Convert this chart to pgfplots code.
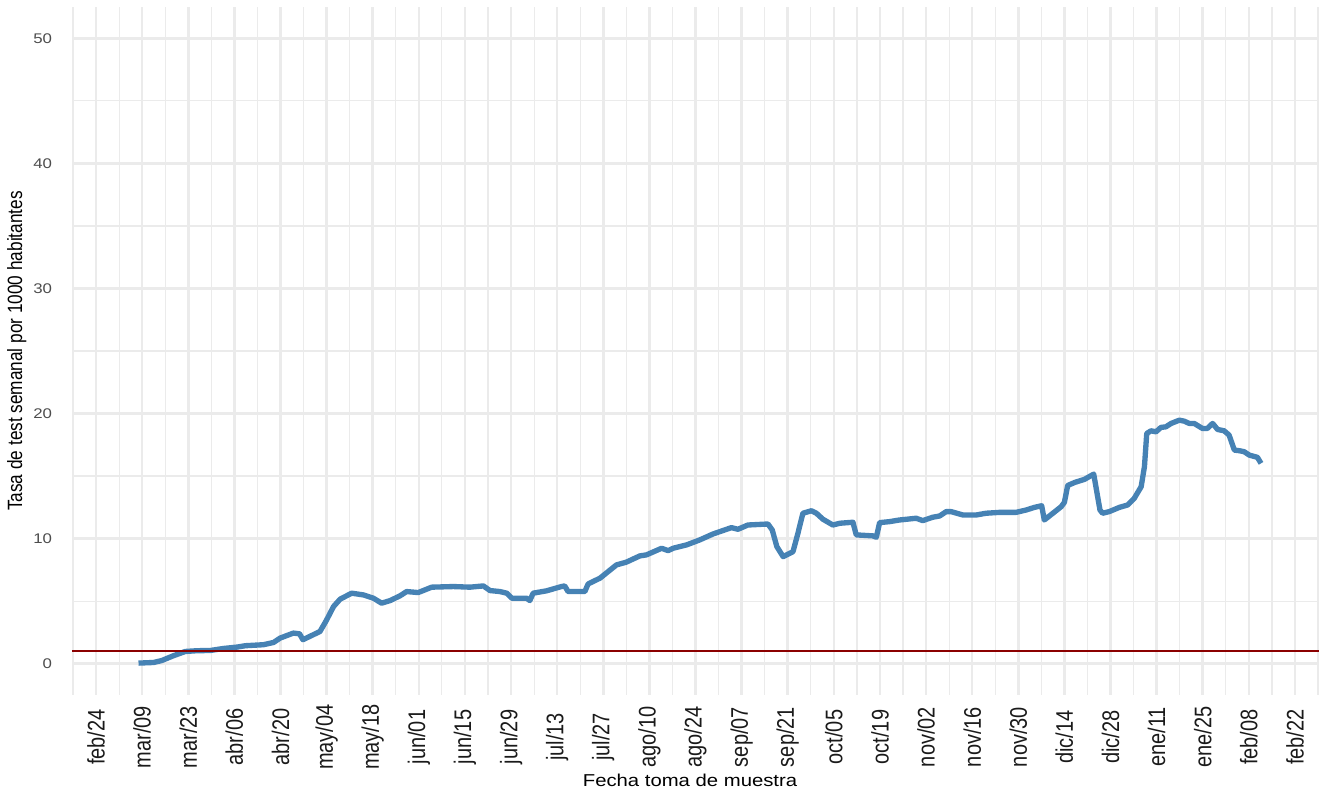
\documentclass[border=0pt]{standalone}
\usepackage{fontspec}
\setmainfont{Liberation Sans}
\newfontfamily\fYT[FakeStretch=1.2]{Liberation Sans}
\newfontfamily\fXT[FakeStretch=0.833]{Liberation Sans}
\newfontfamily\fXL[FakeStretch=1.18]{Liberation Sans}
\usepackage{pgfplots}
\pgfplotsset{compat=1.18}
\definecolor{gridc}{HTML}{EBEBEB}
\definecolor{lineblue}{HTML}{4682B4}
\definecolor{refred}{HTML}{8B0000}
\definecolor{ytc}{HTML}{4D4D4D}
\definecolor{xtc}{HTML}{1A1A1A}
\pgfplotstableread{
d v
12.9 0.05
17.5 0.10
20.0 0.26
23.5 0.64
27.1 0.98
30.6 1.04
34.7 1.06
38.7 1.22
42.8 1.33
45.3 1.44
50.8 1.52
53.9 1.70
55.9 2.05
59.9 2.45
61.8 2.39
62.8 1.92
65.5 2.26
68.0 2.58
70.0 3.50
72.1 4.57
74.1 5.16
77.6 5.64
81.2 5.50
84.2 5.24
86.7 4.84
89.3 5.05
92.3 5.43
94.3 5.77
97.8 5.69
101.9 6.12
108.5 6.17
113.5 6.12
117.6 6.22
119.6 5.85
122.6 5.77
124.7 5.64
126.2 5.24
130.7 5.24
131.7 5.05
132.7 5.64
136.8 5.83
141.3 6.17
142.3 6.22
143.3 5.77
148.4 5.77
149.4 6.38
153.0 6.84
158.0 7.90
161.0 8.12
165.1 8.62
167.1 8.70
171.7 9.23
173.7 9.04
175.2 9.23
179.3 9.50
183.3 9.90
187.3 10.37
192.9 10.88
194.9 10.75
197.9 11.09
204.0 11.17
205.3 10.69
206.7 9.36
208.6 8.56
211.6 8.96
213.1 10.43
214.6 12.03
217.2 12.23
218.7 12.03
220.7 11.55
223.7 11.09
225.8 11.23
229.8 11.31
230.8 10.30
235.9 10.22
236.9 10.11
237.9 11.28
240.9 11.36
243.9 11.49
249.0 11.63
251.0 11.44
254.0 11.71
256.1 11.81
258.1 12.16
259.6 12.16
263.2 11.89
267.2 11.89
270.2 12.03
274.3 12.10
279.3 12.10
282.4 12.29
284.9 12.50
287.1 12.63
287.9 11.49
290.5 12.03
293.0 12.55
294.0 12.90
295.0 14.25
297.2 14.50
300.1 14.74
302.9 15.16
304.8 12.29
305.6 12.03
307.6 12.16
310.7 12.50
313.2 12.69
315.2 13.22
317.3 14.15
318.3 15.75
319.0 18.41
320.3 18.62
321.8 18.54
323.3 18.89
324.8 18.94
326.4 19.21
328.9 19.47
330.4 19.39
331.9 19.21
333.4 19.21
335.9 18.81
337.4 18.81
339.0 19.21
340.5 18.73
342.5 18.62
344.0 18.28
345.6 17.08
347.1 17.03
348.6 16.95
350.1 16.68
352.6 16.50
353.7 16.02
}\tasa
\begin{document}
\begin{tikzpicture}
\path[use as bounding box] (0,0) rectangle (996.75pt,-596.25pt);
\begin{axis}[
  at={(54pt,-521.25pt)}, anchor=south west,
  scale only axis, width=935.25pt, height=516pt,
  xmin=-7.3, xmax=371.3, ymin=-2.5, ymax=52.5,
  xtick={0,14,...,364}, minor xtick={-7,7,...,371},
  ytick={0,10,...,50}, minor ytick={5,15,...,45},
  xticklabels={feb/24,mar/09,mar/23,abr/06,abr/20,may/04,may/18,jun/01,jun/15,jun/29,jul/13,jul/27,ago/10,ago/24,sep/07,sep/21,oct/05,oct/19,nov/02,nov/16,nov/30,dic/14,dic/28,ene/11,ene/25,feb/08,feb/22},
  grid=both,
  major grid style={draw=gridc, line width=1.9pt},
  minor grid style={draw=gridc, line width=0.9pt},
  axis line style={draw=none},
  major tick style={draw=none}, minor tick style={draw=none},
  /pgf/number format/assume math mode=true,
  yticklabel style={xshift=-14.8pt, anchor=east, inner sep=0pt, font=\fYT\fontsize{10.5}{10.5}\selectfont, text=ytc},
  xticklabel style={yshift=-31.5pt, rotate=90, anchor=center, inner sep=0pt, font=\fXT\fontsize{18}{18}\selectfont, text=xtc},
  xlabel={Fecha toma de muestra},
  ylabel={Tasa de test semanal por 1000 habitantes},
  xlabel style={at={(axis description cs:0.4956,-0.1333)}, anchor=base, inner sep=0pt, font=\fXL\fontsize{12.9}{12.9}\selectfont, text=black},
  ylabel style={at={(axis description cs:-0.04435,0.5)}, anchor=center, inner sep=0pt, font=\fXT\fontsize{15.5}{15.5}\selectfont, text=black},
]
\addplot[lineblue, line width=4pt, line join=round, no markers] table[x=d, y=v] {\tasa};
\addplot[refred, line width=1.7pt, no markers] coordinates {(-7.3,1) (371.3,1)};
\end{axis}
\end{tikzpicture}
\end{document}
